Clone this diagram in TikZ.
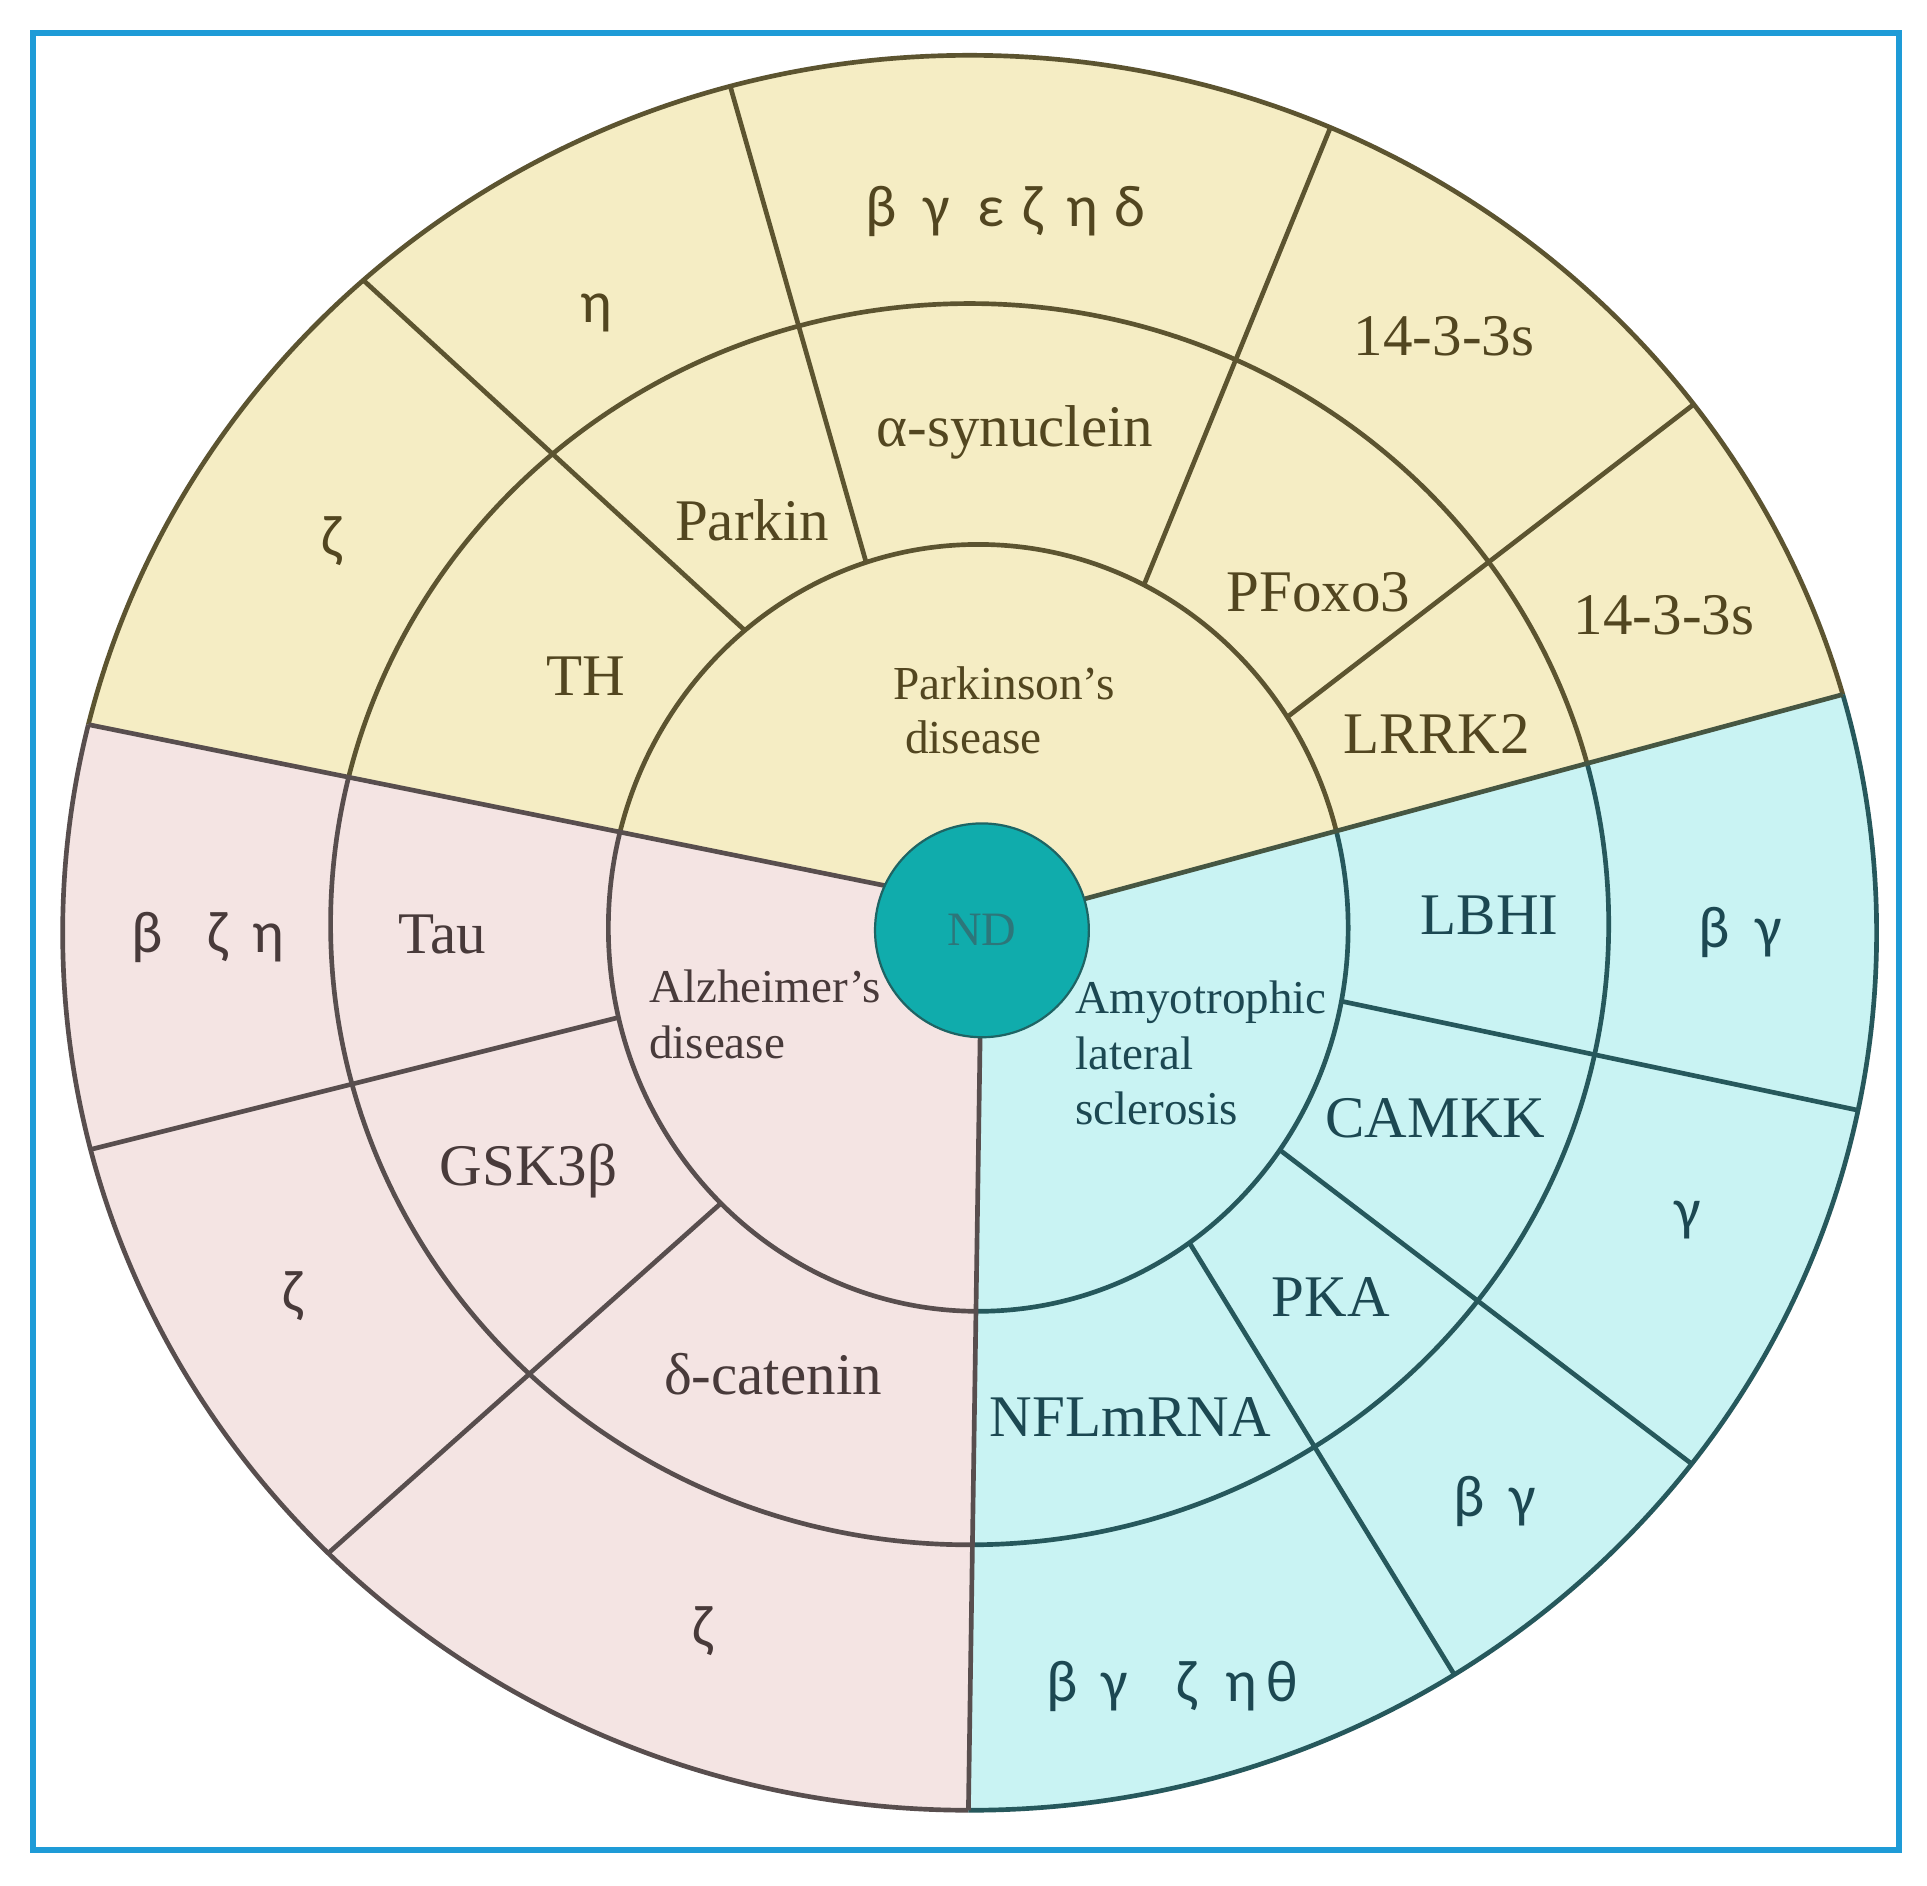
\documentclass[tikz,border=0pt]{standalone}
\usepackage{fontspec}
\setmainfont{Liberation Serif}
\newfontfamily\grk{Carlito}
\usetikzlibrary{calc}
\definecolor{pdfill}{RGB}{245,237,196}
\definecolor{adfill}{RGB}{244,228,227}
\definecolor{alsfill}{RGB}{201,243,243}
\definecolor{pdline}{RGB}{92,84,48}
\definecolor{adline}{RGB}{88,78,78}
\definecolor{alsline}{RGB}{38,88,92}
\definecolor{pdtext}{RGB}{82,70,32}
\definecolor{adtext}{RGB}{72,58,58}
\definecolor{alstext}{RGB}{28,72,82}
\definecolor{ndfill}{RGB}{16,172,172}
\definecolor{ndline}{RGB}{30,100,100}
\definecolor{ndtext}{RGB}{45,118,122}
\definecolor{framecol}{RGB}{30,155,215}
\newcommand{\gp}[1]{\hspace{#1pt}}
\begin{document}
\begin{tikzpicture}[x=1pt,y=-1pt,
  ringline/.style={line width=3.8pt},
  lab/.style={font=\fontsize{48}{52}\selectfont, inner sep=0pt},
  glab/.style={font=\grk\fontsize{48}{52}\selectfont, inner sep=0pt},
  dlab/.style={font=\fontsize{38.3}{45}\selectfont, inner sep=0pt, align=left},
]
\useasboundingbox (0,0) rectangle (1568,1534);
\fill[white] (0,0) rectangle (1568,1534);

% hub and sector boundaries
\coordinate (H) at (800,757);
\coordinate (A1) at (717,720);   \coordinate (B1) at (69,589);
\coordinate (A2) at (884,731);   \coordinate (B2) at (1498,565.5);
\coordinate (A3) at (797.5,845); \coordinate (B3) at (788,1473);
\coordinate (F1) at ($(A1)!1.3!(B1)$);
\coordinate (F2) at ($(A2)!1.3!(B2)$);
\coordinate (F3) at ($(A3)!1.3!(B3)$);

% dividers (inner junction, outer end)
\coordinate (p1) at (605,512);  \coordinate (q1) at (300,232);
\coordinate (p2) at (706,462);  \coordinate (q2) at (597,80);
\coordinate (p3) at (930,478);  \coordinate (q3) at (1080,110);
\coordinate (p4) at (1048,583); \coordinate (q4) at (1373,333);
\coordinate (p5) at (503,828);  \coordinate (q5) at (75,935);
\coordinate (p6) at (580,985);  \coordinate (q6) at (268,1263);
\coordinate (p7) at (1093,815); \coordinate (q7) at (1510,903);
\coordinate (p8) at (1047,940); \coordinate (q8) at (1375,1190);
\coordinate (p9) at (972,1018); \coordinate (q9) at (1183,1362);

% sector fills and dividers inside the outer ring
\begin{scope}
  \clip (789,759) ellipse [x radius=738pt, y radius=714pt];
  \fill[pdfill] (H) -- (A1) -- (F1) -- (-300,-300) -- (1900,-300) -- (F2) -- (A2) -- cycle;
  \fill[adfill] (H) -- (A1) -- (F1) -- (-300,1900) -- (F3) -- (A3) -- cycle;
  \fill[alsfill] (H) -- (A2) -- (F2) -- (1900,1900) -- (F3) -- (A3) -- cycle;
  \foreach \i in {1,2,3,4}{\draw[ringline,pdline] ($(p\i)!-0.15!(q\i)$) -- ($(p\i)!1.15!(q\i)$);}
  \foreach \i in {5,6}{\draw[ringline,adline] ($(p\i)!-0.15!(q\i)$) -- ($(p\i)!1.15!(q\i)$);}
  \foreach \i in {7,8,9}{\draw[ringline,alsline] ($(p\i)!-0.15!(q\i)$) -- ($(p\i)!1.15!(q\i)$);}
\end{scope}

% refill the central disk
\begin{scope}
  \clip (796,755) ellipse [x radius=301pt, y radius=312pt];
  \fill[pdfill] (H) -- (A1) -- (F1) -- (-300,-300) -- (1900,-300) -- (F2) -- (A2) -- cycle;
  \fill[adfill] (H) -- (A1) -- (F1) -- (-300,1900) -- (F3) -- (A3) -- cycle;
  \fill[alsfill] (H) -- (A2) -- (F2) -- (1900,1900) -- (F3) -- (A3) -- cycle;
\end{scope}

% ring outlines, coloured per sector
\begin{scope}
  \clip (H) -- (A1) -- (F1) -- (-300,-300) -- (1900,-300) -- (F2) -- (A2) -- cycle;
  \draw[ringline,pdline] (796,755) ellipse [x radius=301pt, y radius=312pt];
  \draw[ringline,pdline] (789,752) ellipse [x radius=520pt, y radius=505pt];
  \draw[ringline,pdline] (789,759) ellipse [x radius=738pt, y radius=714pt];
\end{scope}
\begin{scope}
  \clip (H) -- (A1) -- (F1) -- (-300,1900) -- (F3) -- (A3) -- cycle;
  \draw[ringline,adline] (796,755) ellipse [x radius=301pt, y radius=312pt];
  \draw[ringline,adline] (789,752) ellipse [x radius=520pt, y radius=505pt];
  \draw[ringline,adline] (789,759) ellipse [x radius=738pt, y radius=714pt];
\end{scope}
\begin{scope}
  \clip (H) -- (A2) -- (F2) -- (1900,1900) -- (F3) -- (A3) -- cycle;
  \draw[ringline,alsline] (796,755) ellipse [x radius=301pt, y radius=312pt];
  \draw[ringline,alsline] (789,752) ellipse [x radius=520pt, y radius=505pt];
  \draw[ringline,alsline] (789,759) ellipse [x radius=738pt, y radius=714pt];
\end{scope}

% sector boundaries
\begin{scope}
  \clip (789,759) ellipse [x radius=738pt, y radius=714pt];
  \draw[ringline,adline] ($(A1)!-0.1!(B1)$) -- ($(A1)!1.05!(B1)$);
  \draw[ringline,color=pdline!60!alsline] ($(A2)!-0.1!(B2)$) -- ($(A2)!1.05!(B2)$);
  \draw[ringline,adline] ($(A3)!-0.1!(B3)$) -- ($(A3)!1.05!(B3)$);
\end{scope}

% centre
\node[circle, minimum size=174pt, inner sep=0pt, fill=ndfill, draw=ndline, line width=1.8pt,
      text=ndtext, font=\fontsize{39}{42}\selectfont] (nd) at (799,757) {ND};

% Parkinson's disease sector
\node[lab,text=pdtext] (pdinA) at (817,556) {\fontsize{38.5}{40}\selectfont Parkinson’s};
\node[lab,text=pdtext] (pdinB) at (792,600) {\fontsize{38.5}{40}\selectfont disease};
\node[lab,text=pdtext] (th) at (477,550) {TH};
\node[lab,text=pdtext] (parkin) at (612,423) {Parkin};
\node[lab,text=pdtext] (asyn) at (826,352) {α-synuclein};
\node[lab,text=pdtext] (pfoxo) at (1073,482) {PFoxo3};
\node[lab,text=pdtext] (lrrk) at (1169,597) {LRRK2};
\node[glab,text=pdtext] (pdo1) at (270,440) {ζ};
\node[glab,text=pdtext] (pdo2) at (485,255) {η};
\node[glab,text=pdtext] (pdo3) at (818,172) {β\gp{22}γ\gp{22}ε\gp{15}ζ\gp{19}η\gp{13}δ};
\node[lab,text=pdtext] (pdo4) at (1175,274) {14-3-3s};
\node[lab,text=pdtext] (pdo5) at (1354,501) {14-3-3s};

% Alzheimer's disease sector
\node[dlab,text=adtext,anchor=base west] (adin) at (528,861) {Alzheimer’s\\disease};
\node[lab,text=adtext] (tau) at (360,760) {Tau};
\node[lab,text=adtext] (gsk) at (430,953) {GSK3β};
\node[lab,text=adtext] (dcat) at (629,1118) {δ-catenin};
\node[glab,text=adtext] (ado1) at (169,763) {β\gp{36}ζ\gp{20}η};
\node[glab,text=adtext] (ado2) at (238,1055) {ζ};
\node[glab,text=adtext] (ado3) at (572,1327) {ζ};

% ALS sector
\node[dlab,text=alstext,anchor=base west] (alsin) at (875,915) {Amyotrophic\\lateral\\sclerosis};
\node[lab,text=alstext] (lbhi) at (1212,745) {LBHI};
\node[lab,text=alstext] (camkk) at (1168,910) {CAMKK};
\node[lab,text=alstext] (pka) at (1083,1055) {PKA};
\node[lab,text=alstext] (nfl) at (920,1153) {NFLmRNA};
\node[glab,text=alstext] (alo1) at (1416,759) {β\gp{21}γ};
\node[glab,text=alstext] (alo2) at (1373,993) {γ};
\node[glab,text=alstext] (alo3) at (1216,1222) {β\gp{20}γ};
\node[glab,text=alstext] (alo4) at (954,1372) {β\gp{19}γ\gp{40}ζ\gp{23}η\gp{8}θ};

% frame
\draw[framecol, line width=5pt] (27,27) rectangle (1545,1505);
\end{tikzpicture}
\end{document}
